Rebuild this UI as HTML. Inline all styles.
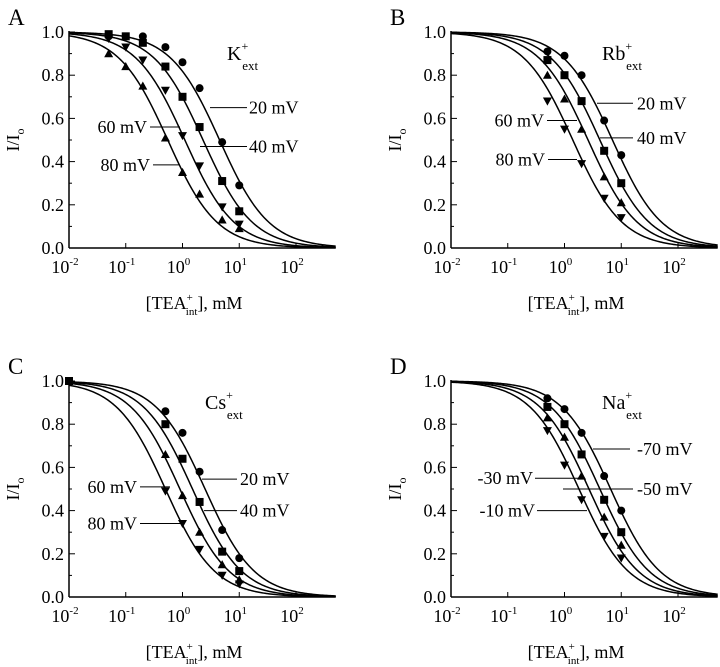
<!DOCTYPE html>
<html><head><meta charset="utf-8"><style>
html,body{margin:0;padding:0;background:#fff;}
svg{display:block;font-family:"Liberation Serif",serif;}
</style></head><body>
<svg id="fig" width="720" height="667" viewBox="0 0 720 667" xmlns="http://www.w3.org/2000/svg"></svg>
<script>
// Shared x concentrations (mM)
const concA = [0.05, 0.1, 0.2, 0.5, 1, 2, 5, 10];
const concACircle = [0.05, 0.2, 0.5, 1, 2, 5, 10];
const concB = [0.5, 1, 2, 5, 10];
const concCSquare = [0.01, 0.5, 1, 2, 5, 10];
const xTickLabels = ["-2", "-1", "0", "1", "2"];
const yTickLabels = ["0.0", "0.2", "0.4", "0.6", "0.8", "1.0"];
// Panel A (K+ext)
const aCircle = [0.98, 0.98, 0.93, 0.86, 0.74, 0.49, 0.29];
const aSquare = [0.99, 0.98, 0.95, 0.84, 0.70, 0.56, 0.31, 0.17];
const aDown = [0.97, 0.93, 0.87, 0.73, 0.52, 0.38, 0.19, 0.11];
const aUp = [0.90, 0.84, 0.75, 0.51, 0.35, 0.25, 0.13, 0.09];
const aKd = [4.5, 2.3, 1.1, 0.55];
// Panel B (Rb+ext)
const bCircle = [0.91, 0.89, 0.80, 0.59, 0.43];
const bSquare = [0.87, 0.80, 0.68, 0.45, 0.30];
const bUp = [0.80, 0.69, 0.55, 0.33, 0.21];
const bDown = [0.68, 0.55, 0.39, 0.23, 0.14];
const bKd = [7, 4.2, 2.6, 1.4];
// Panel C (Cs+ext)
const cCircle = [0.86, 0.76, 0.58, 0.31, 0.18];
const cSquare = [1.0, 0.80, 0.64, 0.44, 0.21, 0.12];
const cUp = [0.66, 0.47, 0.30, 0.15, 0.08];
const cDown = [0.49, 0.34, 0.22, 0.10, 0.06];
const cKd = [2.5, 1.5, 0.9, 0.5];
// Panel D (Na+ext)
const dCircle = [0.92, 0.87, 0.76, 0.56, 0.40];
const dSquare = [0.88, 0.80, 0.66, 0.45, 0.30];
const dUp = [0.83, 0.74, 0.56, 0.37, 0.24];
const dDown = [0.77, 0.61, 0.45, 0.28, 0.18];
const dKd = [6.5, 4.2, 2.7, 1.8];

const NS = "http://www.w3.org/2000/svg";
const svg = document.getElementById('fig');
function mk(tag, attrs, parent, name) {
  const e = document.createElementNS(NS, tag);
  for (const k in attrs) e.setAttribute(k, attrs[k]);
  
  
  parent.appendChild(e);
  return e;
}

function panel(p) {
  const g = mk('g', {}, svg, 'panel-' + p.letter.toLowerCase());
  const x0 = p.ox, yTop = p.oy, yBot = p.oy + 216, dec = 56.75;
  const xs = c => x0 + (Math.log10(c) + 2) * dec;
  const ys = v => yBot - v * 216;
  const xEnd = xs(500);
  const L = mk('text', {x: p.ox - 61, y: p.oy - 7, 'font-size': 23}, g, 'panel-letter');
  L.textContent = p.letter;
  mk('line', {x1: x0, y1: yTop - 1, x2: x0, y2: yBot, stroke: '#000', 'stroke-width': 1.5}, g, 'y-axis-line');
  mk('line', {x1: x0, y1: yBot, x2: xEnd, y2: yBot, stroke: '#000', 'stroke-width': 1.5}, g, 'x-axis-line');
  for (let i = 0; i <= 10; i++) {
    const y = ys(i / 10);
    const len = i % 2 === 0 ? 6 : 3;
    mk('line', {x1: x0, y1: y, x2: x0 + len, y2: y, stroke: '#000', 'stroke-width': 1}, g, 'y-tick');
  }
  yTickLabels.forEach((t, i) => {
    const e = mk('text', {x: x0 - 5, y: ys(i * 0.2) + 6, 'font-size': 18, 'text-anchor': 'end'}, g, 'y-tick-label');
    e.textContent = t;
  });
  xTickLabels.forEach((t, i) => {
    const x = xs(Math.pow(10, i - 2));
    mk('line', {x1: x, y1: yBot, x2: x, y2: yBot - 5, stroke: '#000', 'stroke-width': 1}, g, 'x-tick');
    const e = mk('text', {x: x - 4, y: yBot + 25, 'font-size': 18, 'text-anchor': 'middle'}, g, 'x-tick-label');
    e.textContent = '10';
    const s = mk('tspan', {dy: -8, 'font-size': 11}, e, 'x-tick-exponent');
    s.textContent = t;
  });
  const yt = mk('text', {x: 0, y: 0, 'font-size': 18, 'text-anchor': 'middle', transform: `translate(${x0 - 50},${yTop + 108}) rotate(-90)`}, g, 'y-axis-title');
  yt.textContent = 'I/I';
  const yts = mk('tspan', {dy: 5, 'font-size': 12}, yt, 'y-axis-title-sub'); yts.textContent = 'o';
  const xt = mk('text', {x: x0 + 125, y: yBot + 61, 'font-size': 18, 'text-anchor': 'middle'}, g, 'x-axis-title');
  xt.appendChild(document.createTextNode('[TEA'));
  const sp = mk('tspan', {dy: -8, 'font-size': 11}, xt, 'x-axis-title-sup'); sp.textContent = '+';
  const sb = mk('tspan', {dy: 14, dx: -7, 'font-size': 11}, xt, 'x-axis-title-sub'); sb.textContent = 'int';
  const rest = mk('tspan', {dy: -6}, xt, 'x-axis-title-rest'); rest.textContent = '], mM';
  const ion = mk('text', {x: p.ionX, y: p.oy + 28, 'font-size': 20}, g, 'ion-label');
  ion.appendChild(document.createTextNode(p.ion));
  const is = mk('tspan', {dy: -10, 'font-size': 12}, ion, 'ion-sup'); is.textContent = '+';
  const ib = mk('tspan', {dy: 20, dx: -6, 'font-size': 13}, ion, 'ion-sub'); ib.textContent = 'ext';
  p.kd.forEach((kd, k) => {
    let d = '';
    for (let i = 0; i <= 200; i++) {
      const lc = -2 + i * (Math.log10(500) + 2) / 200;
      const c = Math.pow(10, lc);
      const v = 1 / (1 + c / kd);
      d += (i ? 'L' : 'M') + xs(c).toFixed(2) + ',' + ys(v).toFixed(2);
    }
    mk('path', {d: d, fill: 'none', stroke: '#000', 'stroke-width': 1.5}, g, 'fit-curve-' + k);
  });
  p.series.forEach(s => {
    s.vals.forEach((v, i) => {
      const x = xs(s.conc[i]), y = ys(v), r = 4.5;
      if (s.shape === 'circle') mk('circle', {cx: x, cy: y, r: 4, fill: '#000'}, g, 'point-circle');
      else if (s.shape === 'square') mk('rect', {x: x - 4, y: y - 4, width: 8, height: 8, fill: '#000'}, g, 'point-square');
      else if (s.shape === 'up') mk('polygon', {points: `${x},${y - r} ${x - r},${y + r * 0.8} ${x + r},${y + r * 0.8}`, fill: '#000'}, g, 'point-triangle-up');
      else mk('polygon', {points: `${x},${y + r} ${x - r},${y - r * 0.8} ${x + r},${y - r * 0.8}`, fill: '#000'}, g, 'point-triangle-down');
    });
  });
  p.labels.forEach(l => {
    mk('line', {x1: l.x1, y1: ys(l.v), x2: l.x2, y2: ys(l.v), stroke: '#000', 'stroke-width': 1}, g, 'voltage-leader');
    const t = mk('text', {x: l.tx, y: ys(l.v) + 6, 'font-size': 18, 'text-anchor': l.anchor}, g, 'voltage-label');
    t.textContent = l.text;
  });
}

panel({letter: 'A', ox: 69, oy: 32, ion: 'K', ionX: 227, kd: aKd,
  series: [{shape: 'circle', conc: concACircle, vals: aCircle},
           {shape: 'square', conc: concA, vals: aSquare},
           {shape: 'down', conc: concA, vals: aDown},
           {shape: 'up', conc: concA, vals: aUp}],
  labels: [{text: '20 mV', v: 0.65, x1: 210, x2: 247, tx: 249, anchor: 'start'},
           {text: '40 mV', v: 0.47, x1: 200, x2: 247, tx: 249, anchor: 'start'},
           {text: '60 mV', v: 0.56, x1: 150, x2: 180, tx: 147, anchor: 'end'},
           {text: '80 mV', v: 0.385, x1: 153, x2: 180, tx: 150, anchor: 'end'}]});

panel({letter: 'B', ox: 451, oy: 32, ion: 'Rb', ionX: 602, kd: bKd,
  series: [{shape: 'circle', conc: concB, vals: bCircle}, {shape: 'square', conc: concB, vals: bSquare},
           {shape: 'up', conc: concB, vals: bUp}, {shape: 'down', conc: concB, vals: bDown}],
  labels: [{text: '20 mV', v: 0.67, x1: 597, x2: 633, tx: 637, anchor: 'start'},
           {text: '40 mV', v: 0.51, x1: 600, x2: 633, tx: 637, anchor: 'start'},
           {text: '60 mV', v: 0.59, x1: 547, x2: 577, tx: 544, anchor: 'end'},
           {text: '80 mV', v: 0.41, x1: 548, x2: 577, tx: 545, anchor: 'end'}]});

panel({letter: 'C', ox: 69, oy: 381, ion: 'Cs', ionX: 205, kd: cKd,
  series: [{shape: 'circle', conc: concB, vals: cCircle}, {shape: 'square', conc: concCSquare, vals: cSquare},
           {shape: 'up', conc: concB, vals: cUp}, {shape: 'down', conc: concB, vals: cDown}],
  labels: [{text: '20 mV', v: 0.546, x1: 202, x2: 237, tx: 240, anchor: 'start'},
           {text: '40 mV', v: 0.40, x1: 204, x2: 237, tx: 240, anchor: 'start'},
           {text: '60 mV', v: 0.51, x1: 140, x2: 170, tx: 137, anchor: 'end'},
           {text: '80 mV', v: 0.34, x1: 140, x2: 182, tx: 137, anchor: 'end'}]});

panel({letter: 'D', ox: 451, oy: 381, ion: 'Na', ionX: 602, kd: dKd,
  series: [{shape: 'circle', conc: concB, vals: dCircle}, {shape: 'square', conc: concB, vals: dSquare},
           {shape: 'up', conc: concB, vals: dUp}, {shape: 'down', conc: concB, vals: dDown}],
  labels: [{text: '-70 mV', v: 0.685, x1: 593, x2: 630, tx: 637, anchor: 'start'},
           {text: '-50 mV', v: 0.50, x1: 563, x2: 633, tx: 637, anchor: 'start'},
           {text: '-30 mV', v: 0.55, x1: 535, x2: 584, tx: 533, anchor: 'end'},
           {text: '-10 mV', v: 0.40, x1: 537, x2: 587, tx: 535, anchor: 'end'}]});
</script>
</body></html>
